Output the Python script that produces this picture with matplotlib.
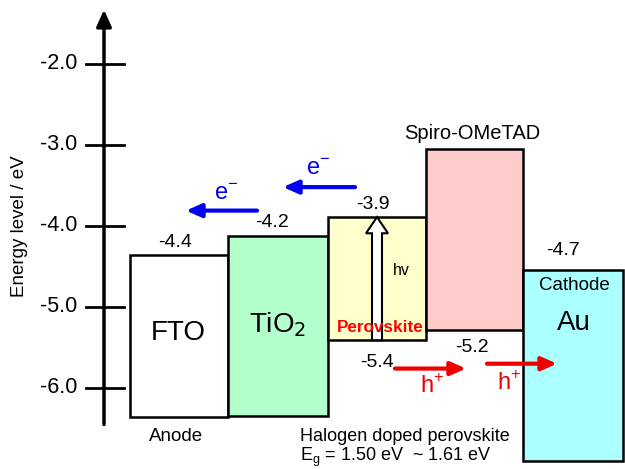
import matplotlib.pyplot as plt
from matplotlib.patches import FancyArrow

plt.rcParams['font.family'] = ['Liberation Sans', 'DejaVu Sans']

# energy levels (eV)
layers = ['FTO', 'TiO$_2$', 'Perovskite', 'Spiro-OMeTAD', 'Au']
top = [-4.36, -4.12, -3.89, -3.05, -4.54]
bottom = [-6.36, -6.35, -5.41, -5.28, -6.9]
colors = ['#ffffff', '#b3ffcc', '#ffffcc', '#ffcccc', '#aaffff']
level_labels = ['-4.4', '-4.2', '-3.9', '-5.4', '-5.2', '-4.7']
yticks = [-2.0, -3.0, -4.0, -5.0, -6.0]

# horizontal layout (pixels)
left = [130, 228, 328, 426, 523]
width = [98, 100, 98, 97, 100]

fig = plt.figure(figsize=(6.25, 4.69), dpi=100)
ax = fig.add_axes([0, 0, 1, 1])
ax.set_xlim(0, 625)
ax.set_ylim(-7.0, -1.21)
ax.axis('off')

ax.bar(left, [t - b for t, b in zip(top, bottom)], bottom=bottom, width=width,
       align='edge', color=colors, edgecolor='black', linewidth=1.8, zorder=2)

# energy axis
ax.annotate('', xy=(104, -1.33), xytext=(104, -6.45),
            arrowprops=dict(arrowstyle='-|>,head_width=0.45,head_length=1.0',
                            color='black', lw=2.5, shrinkA=0, shrinkB=0))
for t in yticks:
    ax.plot([86, 124], [t, t], color='black', lw=2)
    ax.text(77, t, f'{t:.1f}', ha='right', va='center', fontsize=15.5)
ax.text(20, -4.0, 'Energy level / eV', rotation=90, ha='center', va='center', fontsize=13.5)

# level values
ax.text(175, -4.2, level_labels[0], ha='center', va='center', fontsize=14)
ax.text(272, -3.96, level_labels[1], ha='center', va='center', fontsize=14)
ax.text(373, -3.74, level_labels[2], ha='center', va='center', fontsize=14)
ax.text(377, -5.68, level_labels[3], ha='center', va='center', fontsize=14)
ax.text(472, -5.5, level_labels[4], ha='center', va='center', fontsize=14)
ax.text(563, -4.3, level_labels[5], ha='center', va='center', fontsize=14)

# layer names
ax.text(178, -5.32, layers[0], ha='center', va='center', fontsize=20)
ax.text(278, -5.22, layers[1], ha='center', va='center', fontsize=20)
ax.text(380, -5.25, layers[2], ha='center', va='center', fontsize=12.3,
        color='red', fontweight='bold', zorder=5)
ax.text(472, -2.86, layers[3], ha='center', va='center', fontsize=14.5)
ax.text(574, -5.2, layers[4], ha='center', va='center', fontsize=20)
ax.text(574, -4.74, 'Cathode', ha='center', va='center', fontsize=13.5)
ax.text(176, -6.6, 'Anode', ha='center', va='center', fontsize=13.5)
ax.text(300, -6.6, 'Halogen doped perovskite', ha='left', va='center', fontsize=13)
ax.text(300, -6.86, 'E$_\\mathregular{g}$ = 1.50 eV  ~ 1.61 eV', ha='left', va='center',
        fontsize=13)

# photon excitation arrow
ax.add_patch(FancyArrow(377, -5.41, 0, 1.52, width=10, length_includes_head=True,
                        head_width=22, head_length=0.2, facecolor='white',
                        edgecolor='black', lw=1.5, transform=ax.transData, zorder=3))
ax.text(401, -4.55, 'hv', ha='center', va='center', fontsize=11.5)

# electron transfer
blue_arrows = [((257, -3.81), (186, -3.81)), ((355, -3.52), (283, -3.52))]
for (x0, y0), (x1, y1) in blue_arrows:
    ax.annotate('', xy=(x1, y1), xytext=(x0, y0),
                arrowprops=dict(arrowstyle='-|>,head_width=0.4,head_length=0.9',
                                color='#0000ee', lw=3, shrinkA=0, shrinkB=0))
ax.text(226, -3.6, 'e$^\\mathregular{-}$', ha='center', va='center', fontsize=17, color='#0000ee')
ax.text(318, -3.3, 'e$^\\mathregular{-}$', ha='center', va='center', fontsize=17, color='#0000ee')

# hole transfer
red_arrows = [((395, -5.76), (466, -5.76)), ((487, -5.7), (557, -5.7))]
for (x0, y0), (x1, y1) in red_arrows:
    ax.annotate('', xy=(x1, y1), xytext=(x0, y0),
                arrowprops=dict(arrowstyle='-|>,head_width=0.4,head_length=0.9',
                                color='#ee0000', lw=3, shrinkA=0, shrinkB=0))
ax.text(432, -5.98, 'h$^\\mathregular{+}$', ha='center', va='center', fontsize=17, color='#ee0000')
ax.text(509, -5.94, 'h$^\\mathregular{+}$', ha='center', va='center', fontsize=17, color='#ee0000')

fig.savefig('out.png', dpi=100)
